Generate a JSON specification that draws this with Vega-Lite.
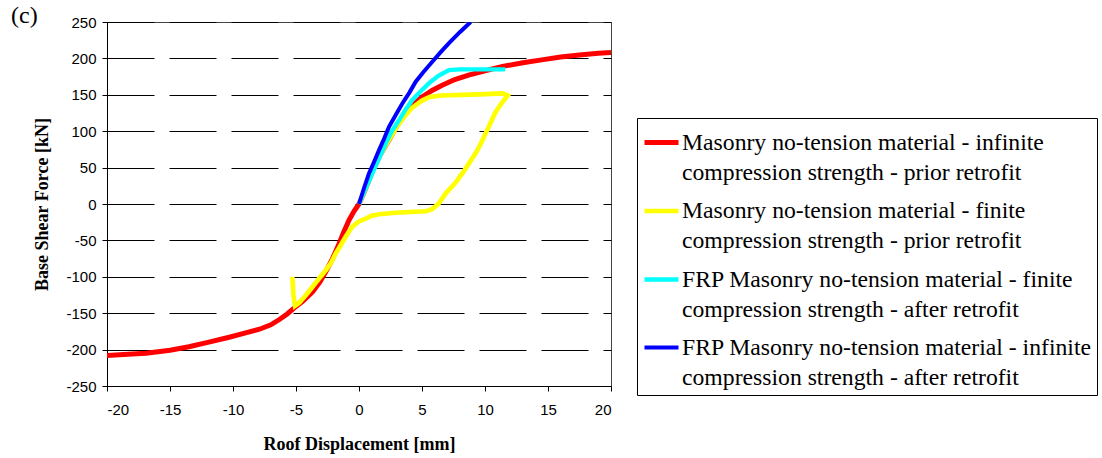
{
  "$schema": "https://vega.github.io/schema/vega-lite/v6.json",
  "width": 504,
  "height": 364,
  "autosize": {"type": "none"},
  "padding": {"left": 107, "top": 22, "right": 491, "bottom": 72},
  "background": "white",
  "title": {"text": "(c)", "anchor": "start", "frame": "group", "orient": "top", "baseline": "top", "offset": -13, "dx": -96, "font": "Liberation Serif", "fontSize": 24, "fontWeight": "normal", "color": "black"},
  "config": {
    "view": {"stroke": "#444", "strokeWidth": 1},
    "style": {"guide-label": {"lineHeight": 30}},
    "axis": {"labelFont": "Liberation Sans", "labelFontSize": 15, "labelColor": "black", "titleFont": "Liberation Serif", "titleFontSize": 18, "titleFontWeight": "bold", "titleColor": "black", "domainColor": "black", "tickColor": "black", "tickSize": 5, "labelExpr": "toString(datum.value)"}
  },
  "data": {"values": [
    {"s": "Masonry no-tension material - infinite compression strength - prior retrofit", "i": 1, "x": -20, "y": -208},
    {"s": "Masonry no-tension material - infinite compression strength - prior retrofit", "i": 2, "x": -18, "y": -206},
    {"s": "Masonry no-tension material - infinite compression strength - prior retrofit", "i": 3, "x": -16.9, "y": -205},
    {"s": "Masonry no-tension material - infinite compression strength - prior retrofit", "i": 4, "x": -15, "y": -201},
    {"s": "Masonry no-tension material - infinite compression strength - prior retrofit", "i": 5, "x": -13.5, "y": -196},
    {"s": "Masonry no-tension material - infinite compression strength - prior retrofit", "i": 6, "x": -12, "y": -190},
    {"s": "Masonry no-tension material - infinite compression strength - prior retrofit", "i": 7, "x": -10.3, "y": -183},
    {"s": "Masonry no-tension material - infinite compression strength - prior retrofit", "i": 8, "x": -9, "y": -177},
    {"s": "Masonry no-tension material - infinite compression strength - prior retrofit", "i": 9, "x": -7.9, "y": -172},
    {"s": "Masonry no-tension material - infinite compression strength - prior retrofit", "i": 10, "x": -7, "y": -166},
    {"s": "Masonry no-tension material - infinite compression strength - prior retrofit", "i": 11, "x": -6.35, "y": -159},
    {"s": "Masonry no-tension material - infinite compression strength - prior retrofit", "i": 12, "x": -5.7, "y": -151},
    {"s": "Masonry no-tension material - infinite compression strength - prior retrofit", "i": 13, "x": -5.16, "y": -143},
    {"s": "Masonry no-tension material - infinite compression strength - prior retrofit", "i": 14, "x": -4.5, "y": -134},
    {"s": "Masonry no-tension material - infinite compression strength - prior retrofit", "i": 15, "x": -3.7, "y": -121},
    {"s": "Masonry no-tension material - infinite compression strength - prior retrofit", "i": 16, "x": -3.1, "y": -107},
    {"s": "Masonry no-tension material - infinite compression strength - prior retrofit", "i": 17, "x": -2.64, "y": -93},
    {"s": "Masonry no-tension material - infinite compression strength - prior retrofit", "i": 18, "x": -2.1, "y": -75},
    {"s": "Masonry no-tension material - infinite compression strength - prior retrofit", "i": 19, "x": -1.59, "y": -55},
    {"s": "Masonry no-tension material - infinite compression strength - prior retrofit", "i": 20, "x": -1.2, "y": -38},
    {"s": "Masonry no-tension material - infinite compression strength - prior retrofit", "i": 21, "x": -0.79, "y": -22},
    {"s": "Masonry no-tension material - infinite compression strength - prior retrofit", "i": 22, "x": -0.4, "y": -10},
    {"s": "Masonry no-tension material - infinite compression strength - prior retrofit", "i": 23, "x": 0, "y": 0},
    {"s": "Masonry no-tension material - infinite compression strength - prior retrofit", "i": 24, "x": 0.5, "y": 20},
    {"s": "Masonry no-tension material - infinite compression strength - prior retrofit", "i": 25, "x": 1.06, "y": 45},
    {"s": "Masonry no-tension material - infinite compression strength - prior retrofit", "i": 26, "x": 1.7, "y": 68},
    {"s": "Masonry no-tension material - infinite compression strength - prior retrofit", "i": 27, "x": 2.38, "y": 88},
    {"s": "Masonry no-tension material - infinite compression strength - prior retrofit", "i": 28, "x": 3, "y": 107},
    {"s": "Masonry no-tension material - infinite compression strength - prior retrofit", "i": 29, "x": 3.7, "y": 124},
    {"s": "Masonry no-tension material - infinite compression strength - prior retrofit", "i": 30, "x": 4.3, "y": 137},
    {"s": "Masonry no-tension material - infinite compression strength - prior retrofit", "i": 31, "x": 5, "y": 147},
    {"s": "Masonry no-tension material - infinite compression strength - prior retrofit", "i": 32, "x": 5.8, "y": 156},
    {"s": "Masonry no-tension material - infinite compression strength - prior retrofit", "i": 33, "x": 6.6, "y": 163},
    {"s": "Masonry no-tension material - infinite compression strength - prior retrofit", "i": 34, "x": 7.6, "y": 171},
    {"s": "Masonry no-tension material - infinite compression strength - prior retrofit", "i": 35, "x": 8.7, "y": 177},
    {"s": "Masonry no-tension material - infinite compression strength - prior retrofit", "i": 36, "x": 10, "y": 183},
    {"s": "Masonry no-tension material - infinite compression strength - prior retrofit", "i": 37, "x": 11.4, "y": 189},
    {"s": "Masonry no-tension material - infinite compression strength - prior retrofit", "i": 38, "x": 13, "y": 194},
    {"s": "Masonry no-tension material - infinite compression strength - prior retrofit", "i": 39, "x": 14.5, "y": 198},
    {"s": "Masonry no-tension material - infinite compression strength - prior retrofit", "i": 40, "x": 16, "y": 202},
    {"s": "Masonry no-tension material - infinite compression strength - prior retrofit", "i": 41, "x": 17.7, "y": 205},
    {"s": "Masonry no-tension material - infinite compression strength - prior retrofit", "i": 42, "x": 19, "y": 207},
    {"s": "Masonry no-tension material - infinite compression strength - prior retrofit", "i": 43, "x": 20, "y": 208},
    {"s": "Masonry no-tension material - finite compression strength - prior retrofit", "i": 1, "x": 0, "y": 0},
    {"s": "Masonry no-tension material - finite compression strength - prior retrofit", "i": 2, "x": 0.5, "y": 20},
    {"s": "Masonry no-tension material - finite compression strength - prior retrofit", "i": 3, "x": 1.06, "y": 45},
    {"s": "Masonry no-tension material - finite compression strength - prior retrofit", "i": 4, "x": 1.7, "y": 68},
    {"s": "Masonry no-tension material - finite compression strength - prior retrofit", "i": 5, "x": 2.38, "y": 88},
    {"s": "Masonry no-tension material - finite compression strength - prior retrofit", "i": 6, "x": 3, "y": 106},
    {"s": "Masonry no-tension material - finite compression strength - prior retrofit", "i": 7, "x": 3.5, "y": 118},
    {"s": "Masonry no-tension material - finite compression strength - prior retrofit", "i": 8, "x": 4.2, "y": 132},
    {"s": "Masonry no-tension material - finite compression strength - prior retrofit", "i": 9, "x": 5, "y": 142},
    {"s": "Masonry no-tension material - finite compression strength - prior retrofit", "i": 10, "x": 5.6, "y": 147},
    {"s": "Masonry no-tension material - finite compression strength - prior retrofit", "i": 11, "x": 6.5, "y": 149},
    {"s": "Masonry no-tension material - finite compression strength - prior retrofit", "i": 12, "x": 8.2, "y": 150},
    {"s": "Masonry no-tension material - finite compression strength - prior retrofit", "i": 13, "x": 10, "y": 151},
    {"s": "Masonry no-tension material - finite compression strength - prior retrofit", "i": 14, "x": 11.4, "y": 152},
    {"s": "Masonry no-tension material - finite compression strength - prior retrofit", "i": 15, "x": 11.8, "y": 149},
    {"s": "Masonry no-tension material - finite compression strength - prior retrofit", "i": 16, "x": 11.3, "y": 138},
    {"s": "Masonry no-tension material - finite compression strength - prior retrofit", "i": 17, "x": 10.8, "y": 125},
    {"s": "Masonry no-tension material - finite compression strength - prior retrofit", "i": 18, "x": 10.4, "y": 110},
    {"s": "Masonry no-tension material - finite compression strength - prior retrofit", "i": 19, "x": 10.05, "y": 97},
    {"s": "Masonry no-tension material - finite compression strength - prior retrofit", "i": 20, "x": 9.7, "y": 84},
    {"s": "Masonry no-tension material - finite compression strength - prior retrofit", "i": 21, "x": 9.26, "y": 70},
    {"s": "Masonry no-tension material - finite compression strength - prior retrofit", "i": 22, "x": 8.7, "y": 55},
    {"s": "Masonry no-tension material - finite compression strength - prior retrofit", "i": 23, "x": 8.2, "y": 42},
    {"s": "Masonry no-tension material - finite compression strength - prior retrofit", "i": 24, "x": 7.6, "y": 28},
    {"s": "Masonry no-tension material - finite compression strength - prior retrofit", "i": 25, "x": 6.9, "y": 15},
    {"s": "Masonry no-tension material - finite compression strength - prior retrofit", "i": 26, "x": 6.3, "y": 0},
    {"s": "Masonry no-tension material - finite compression strength - prior retrofit", "i": 27, "x": 5.8, "y": -7},
    {"s": "Masonry no-tension material - finite compression strength - prior retrofit", "i": 28, "x": 5.3, "y": -10},
    {"s": "Masonry no-tension material - finite compression strength - prior retrofit", "i": 29, "x": 4, "y": -11},
    {"s": "Masonry no-tension material - finite compression strength - prior retrofit", "i": 30, "x": 2.9, "y": -12},
    {"s": "Masonry no-tension material - finite compression strength - prior retrofit", "i": 31, "x": 1.6, "y": -14},
    {"s": "Masonry no-tension material - finite compression strength - prior retrofit", "i": 32, "x": 1, "y": -16},
    {"s": "Masonry no-tension material - finite compression strength - prior retrofit", "i": 33, "x": 0.53, "y": -20},
    {"s": "Masonry no-tension material - finite compression strength - prior retrofit", "i": 34, "x": 0, "y": -24},
    {"s": "Masonry no-tension material - finite compression strength - prior retrofit", "i": 35, "x": -0.53, "y": -31},
    {"s": "Masonry no-tension material - finite compression strength - prior retrofit", "i": 36, "x": -1.06, "y": -45},
    {"s": "Masonry no-tension material - finite compression strength - prior retrofit", "i": 37, "x": -1.5, "y": -58},
    {"s": "Masonry no-tension material - finite compression strength - prior retrofit", "i": 38, "x": -1.85, "y": -68},
    {"s": "Masonry no-tension material - finite compression strength - prior retrofit", "i": 39, "x": -2.2, "y": -80},
    {"s": "Masonry no-tension material - finite compression strength - prior retrofit", "i": 40, "x": -2.64, "y": -91},
    {"s": "Masonry no-tension material - finite compression strength - prior retrofit", "i": 41, "x": -3.2, "y": -103},
    {"s": "Masonry no-tension material - finite compression strength - prior retrofit", "i": 42, "x": -3.7, "y": -114},
    {"s": "Masonry no-tension material - finite compression strength - prior retrofit", "i": 43, "x": -4.2, "y": -125},
    {"s": "Masonry no-tension material - finite compression strength - prior retrofit", "i": 44, "x": -4.76, "y": -136},
    {"s": "Masonry no-tension material - finite compression strength - prior retrofit", "i": 45, "x": -5.08, "y": -140},
    {"s": "Masonry no-tension material - finite compression strength - prior retrofit", "i": 46, "x": -5.2, "y": -125},
    {"s": "Masonry no-tension material - finite compression strength - prior retrofit", "i": 47, "x": -5.29, "y": -100},
    {"s": "FRP Masonry no-tension material - finite compression strength - after retrofit", "i": 1, "x": 0, "y": 0},
    {"s": "FRP Masonry no-tension material - finite compression strength - after retrofit", "i": 2, "x": 0.5, "y": 20},
    {"s": "FRP Masonry no-tension material - finite compression strength - after retrofit", "i": 3, "x": 1.06, "y": 42},
    {"s": "FRP Masonry no-tension material - finite compression strength - after retrofit", "i": 4, "x": 1.6, "y": 63},
    {"s": "FRP Masonry no-tension material - finite compression strength - after retrofit", "i": 5, "x": 2.12, "y": 83},
    {"s": "FRP Masonry no-tension material - finite compression strength - after retrofit", "i": 6, "x": 2.6, "y": 100},
    {"s": "FRP Masonry no-tension material - finite compression strength - after retrofit", "i": 7, "x": 3.17, "y": 115},
    {"s": "FRP Masonry no-tension material - finite compression strength - after retrofit", "i": 8, "x": 3.7, "y": 130},
    {"s": "FRP Masonry no-tension material - finite compression strength - after retrofit", "i": 9, "x": 4.23, "y": 143},
    {"s": "FRP Masonry no-tension material - finite compression strength - after retrofit", "i": 10, "x": 4.9, "y": 155},
    {"s": "FRP Masonry no-tension material - finite compression strength - after retrofit", "i": 11, "x": 5.56, "y": 166},
    {"s": "FRP Masonry no-tension material - finite compression strength - after retrofit", "i": 12, "x": 6.3, "y": 176},
    {"s": "FRP Masonry no-tension material - finite compression strength - after retrofit", "i": 13, "x": 7.14, "y": 184},
    {"s": "FRP Masonry no-tension material - finite compression strength - after retrofit", "i": 14, "x": 8, "y": 185},
    {"s": "FRP Masonry no-tension material - finite compression strength - after retrofit", "i": 15, "x": 9.5, "y": 185},
    {"s": "FRP Masonry no-tension material - finite compression strength - after retrofit", "i": 16, "x": 11.6, "y": 185},
    {"s": "FRP Masonry no-tension material - infinite compression strength - after retrofit", "i": 1, "x": 0, "y": 0},
    {"s": "FRP Masonry no-tension material - infinite compression strength - after retrofit", "i": 2, "x": 0.4, "y": 22},
    {"s": "FRP Masonry no-tension material - infinite compression strength - after retrofit", "i": 3, "x": 0.79, "y": 42},
    {"s": "FRP Masonry no-tension material - infinite compression strength - after retrofit", "i": 4, "x": 1.2, "y": 58},
    {"s": "FRP Masonry no-tension material - infinite compression strength - after retrofit", "i": 5, "x": 1.59, "y": 74},
    {"s": "FRP Masonry no-tension material - infinite compression strength - after retrofit", "i": 6, "x": 2, "y": 90},
    {"s": "FRP Masonry no-tension material - infinite compression strength - after retrofit", "i": 7, "x": 2.38, "y": 106},
    {"s": "FRP Masonry no-tension material - infinite compression strength - after retrofit", "i": 8, "x": 2.9, "y": 122},
    {"s": "FRP Masonry no-tension material - infinite compression strength - after retrofit", "i": 9, "x": 3.44, "y": 138},
    {"s": "FRP Masonry no-tension material - infinite compression strength - after retrofit", "i": 10, "x": 4, "y": 153},
    {"s": "FRP Masonry no-tension material - infinite compression strength - after retrofit", "i": 11, "x": 4.5, "y": 168},
    {"s": "FRP Masonry no-tension material - infinite compression strength - after retrofit", "i": 12, "x": 5.1, "y": 181},
    {"s": "FRP Masonry no-tension material - infinite compression strength - after retrofit", "i": 13, "x": 5.8, "y": 195},
    {"s": "FRP Masonry no-tension material - infinite compression strength - after retrofit", "i": 14, "x": 6.5, "y": 209},
    {"s": "FRP Masonry no-tension material - infinite compression strength - after retrofit", "i": 15, "x": 7.14, "y": 221},
    {"s": "FRP Masonry no-tension material - infinite compression strength - after retrofit", "i": 16, "x": 8, "y": 236},
    {"s": "FRP Masonry no-tension material - infinite compression strength - after retrofit", "i": 17, "x": 8.86, "y": 250}
  ]},
  "mark": {"type": "line", "clip": true},
  "encoding": {
    "x": {"field": "x", "type": "quantitative", "scale": {"domain": [-20, 20], "nice": false, "zero": false},
      "axis": {"title": "Roof Displacement [mm]", "values": [-20, -15, -10, -5, 0, 5, 10, 15, 20], "grid": false, "labelPadding": 11, "titlePadding": 18}},
    "y": {"field": "y", "type": "quantitative", "scale": {"domain": [-250, 250], "nice": false, "zero": false},
      "axis": {"title": "Base Shear Force [kN]", "values": [-250, -200, -150, -100, -50, 0, 50, 100, 150, 200, 250], "grid": true, "gridColor": "black", "gridDash": [47, 15], "gridWidth": 1, "labelPadding": 6, "titlePadding": 14}},
    "order": {"field": "i", "type": "quantitative"},
    "strokeWidth": {"field": "s", "type": "nominal", "legend": null,
      "scale": {"domain": [
        "Masonry no-tension material - infinite compression strength - prior retrofit",
        "Masonry no-tension material - finite compression strength - prior retrofit",
        "FRP Masonry no-tension material - finite compression strength - after retrofit",
        "FRP Masonry no-tension material - infinite compression strength - after retrofit"],
        "range": [5, 4, 4, 4]}},
    "color": {"field": "s", "type": "nominal",
      "scale": {"domain": [
        "Masonry no-tension material - infinite compression strength - prior retrofit",
        "Masonry no-tension material - finite compression strength - prior retrofit",
        "FRP Masonry no-tension material - finite compression strength - after retrofit",
        "FRP Masonry no-tension material - infinite compression strength - after retrofit"],
        "range": ["#FF0000", "#FFFF00", "#00FFFF", "#0000FF"]},
      "legend": {"title": null, "orient": "none", "legendX": 530, "legendY": 96, "strokeColor": "black", "fillColor": "white", "padding": 5,
        "symbolType": "stroke", "symbolSize": 1156, "symbolStrokeWidth": 3,
        "labelFont": "Liberation Serif", "labelFontSize": 23.7, "labelColor": "black", "labelLimit": 0, "labelOffset": 1,
        "labelBaseline": "middle", "rowPadding": 6.5,
        "labelExpr": "split(replace(datum.label, ' compression', '|compression'), '|')"}}
  }
}
